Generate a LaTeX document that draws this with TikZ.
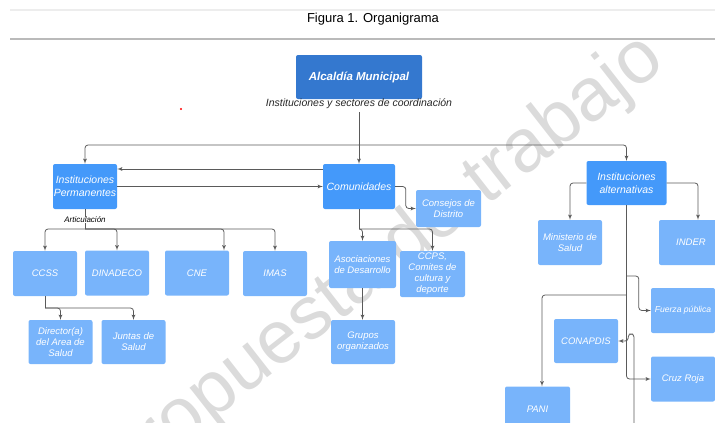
\documentclass[tikz,border=0pt]{standalone}
\usepackage{fontspec}
\setmainfont{Liberation Sans}
\usetikzlibrary{arrows,calc,positioning}
\definecolor{azulosc}{HTML}{3478CF}
\definecolor{azul}{HTML}{4499FA}
\definecolor{celeste}{HTML}{78B4FB}
\definecolor{linea}{HTML}{5A5A5A}
\tikzstyle{cab}=[fill=azulosc,rounded corners=2pt,minimum width=126pt,minimum height=44pt,text=white,font=\fontsize{11.5}{13}\selectfont\bfseries\itshape]
\tikzstyle{sect}=[fill=azul,rounded corners=2pt,minimum height=45pt,text=white,align=center,inner sep=0pt,font=\fontsize{10.5}{13}\selectfont\itshape]
\tikzstyle{inst}=[fill=celeste,rounded corners=2pt,minimum width=64pt,minimum height=45pt,text=white,align=center,inner sep=0pt,font=\fontsize{9.5}{11}\selectfont\itshape]
\tikzstyle{con}=[draw=linea,line width=0.8pt,rounded corners=3pt]

\begin{document}
\begin{tikzpicture}[
      x=1pt,y=-1pt,
      >=latex'
    ]
      \useasboundingbox (0,0) rectangle (715,423);
      % watermark and page rules
      \node [rotate=38,text=black!14,font=\fontsize{75}{75}\selectfont] (marca) at (384,262) {propuesta de trabajo};
      \draw [black!7,line width=2pt] (10,10) -- (715,10);
      \draw [black!27,line width=1.6pt] (10,39) -- (715,39);
      \node [font=\fontsize{13}{15}\selectfont] (tit) at (373,19) {Figura 1. Organigrama};
      \fill [red] (181,109) circle (1.2);

      \node [cab] (alc) at (359,77) {Alcaldía Municipal};
      \node [text=black!85,font=\fontsize{10.5}{12}\selectfont\itshape] (coord) at (359,104) {Instituciones y sectores de coordinación};

      \node [sect,minimum width=64pt] (perm) at (85,186.5) {Instituciones\\Permanentes};
      \node [sect,minimum width=72pt] (com) at (359,186.5) {Comunidades};
      \node [sect,minimum width=80pt,minimum height=44pt] (alt) at (626.5,183) {Instituciones\\alternativas};

      \node [inst] (ccss) at (45,273.5) {CCSS};
      \node [inst] (dina) at (117,273) {DINADECO};
      \node [inst] (cne)  at (197,273) {CNE};
      \node [inst] (imas) at (275,273.5) {IMAS};
      \node [inst,minimum height=44pt] (dir) at (60.5,342) {Director(a)\\del Area de\\Salud};
      \node [inst,minimum height=44pt] (jun) at (133.5,342) {Juntas de\\Salud};

      \node [inst,minimum width=65pt,minimum height=37pt] (cons) at (448.5,208.5) {Consejos de\\Distrito};
      \node [inst,minimum width=67pt,minimum height=47pt] (asoc) at (362.5,264.5) {Asociaciones\\de Desarrollo};
      \node [inst,minimum width=65pt,minimum height=46pt] (ccps) at (432.5,274) {CCPS,\\Comites de\\cultura y\\deporte};
      \node [inst,minimum height=44pt] (grup) at (363,342) {Grupos\\organizados};

      \node [inst] (mins)  at (570,242.5) {Ministerio de\\Salud};
      \node [inst] (inder) at (691,242.5) {INDER};
      \node [inst,font=\fontsize{8.6}{10}\selectfont\itshape] (fuer) at (683,310.5) {Fuerza pública};
      \node [inst,minimum height=44pt] (conap) at (586,341) {CONAPDIS};
      \node [inst] (cruz)  at (683,379) {Cruz Roja};
      \node [inst,minimum width=65pt] (pani)  at (537.5,409) {PANI};

      % top level
      \coordinate (hub) at (358,145);
      \draw [con,->] (coord.south) -- (coord.south |- com.north);
      \draw [con,->] (hub) -| (perm.north);
      \draw [con,->] (hub) -| (alt.north);
      \draw [con,->] ($(com.west)+(0,-17.5)$) -- ($(perm.east)+(0,-17.5)$);
      \draw [con,->] (perm.east) -- (com.west);

      % permanentes
      \coordinate (art) at (85,229);
      \draw [con] (perm.south) -- (art);
      \node [fill=white,inner sep=0.5pt,font=\fontsize{8}{9}\selectfont\itshape] (artlab) at (85,220) {Articulación};
      \draw [con,->] (art) -| (ccss.north);
      \draw [con,->] (art) -| (dina.north);
      \draw [con,->] (art) -| ($(cne.north)+(27,0)$);
      \draw [con,->] (art) -| (imas.north);
      \coordinate (cs) at (45,308);
      \draw [con] (ccss.south) -- (cs);
      \draw [con,->] (cs) -| (dir.north);
      \draw [con,->] (cs) -| (jun.north);

      % comunidades
      \draw [con,->] (com.east) -| ($(cons.west)+(-10,0)$) -- (cons.west);
      \coordinate (cm) at (359,229);
      \draw [con] (com.south) -- (cm);
      \draw [con,->] (cm) -| (asoc.north);
      \draw [con,->] (cm) -| (ccps.north);
      \draw [con,->] (asoc.south) -- (asoc.south |- grup.north);

      % alternativas
      \draw [con,->] (alt.west) -| (mins.north);
      \draw [con,->] (alt.east) -| ($(inder.north)+(7,0)$);
      \draw [con,->] (alt.south) |- (cruz.west);
      \coordinate (f1) at (626.5,276);
      \draw [con,->] (f1) -| ($(fuer.west)+(-12,0)$) -- (fuer.west);
      \coordinate (p1) at (626.5,295);
      \draw [con,->] (p1) -| ($(pani.north)+(4.5,0)$);
      \coordinate (cbot) at (634,430);
      \draw [con,->] (cbot) |- ($(conap.east)+(10,-7)$) |- (conap.east);
    \end{tikzpicture}
\end{document}
